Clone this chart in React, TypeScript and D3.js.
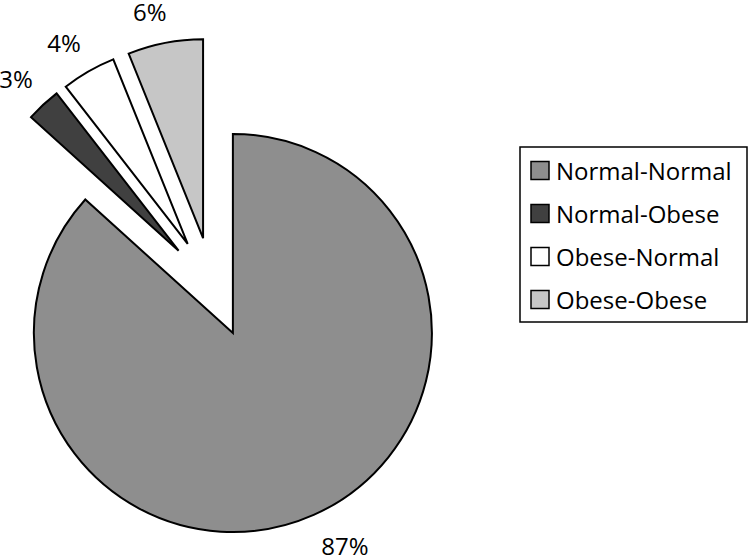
import React from "react";
import * as d3 from "d3";

const categories = ["Normal-Normal", "Normal-Obese", "Obese-Normal", "Obese-Obese"];
const values = [86.7, 2.8, 4.4, 6.1];
const colors = ["#8e8e8e", "#404040", "#ffffff", "#c6c6c6"];

const W = 749;
const H = 558;
const CX = 212.6;
const CY = 287.3;
const R = 199;
const EXPLODE = 50;
const FONT = "'Open Sans', sans-serif";

export default function App() {
  const pie = d3.pie<number>().sort(null).value((d) => d).startAngle(0).endAngle(2 * Math.PI);
  const arcs = pie(values);
  const arc = d3.arc<d3.PieArcDatum<number>>().innerRadius(0).outerRadius(R);

  const legendX = 520;
  const legendY = 147;
  const rowH = 43;

  return (
    <svg width={W} height={H} style={{ position: "absolute", left: 0, top: 0, background: "#fff" }}>
      {arcs.map((a, i) => {
        const mid = (a.startAngle + a.endAngle) / 2;
        const dx = Math.sin(mid);
        const dy = -Math.cos(mid);
        const ox = CX + dx * EXPLODE;
        const oy = CY + dy * EXPLODE;
        return (
          <path
            key={categories[i]}
            d={arc(a) || ""}
            transform={`translate(${ox},${oy})`}
            fill={colors[i]}
            stroke="#000"
            strokeWidth={2}
            strokeLinejoin="miter"
          />
        );
      })}
      {arcs.map((a, i) => {
        const mid = (a.startAngle + a.endAngle) / 2;
        const dx = Math.sin(mid);
        const dy = -Math.cos(mid);
        const px = CX + dx * (EXPLODE + R);
        const py = CY + dy * (EXPLODE + R);
        const label = `${Math.round(values[i])}%`;
        const hw = label.length * 8;
        const halfText = label.length * 8.5;
        let lx = px + dx * 30 + Math.sign(dx) * hw * (label.length > 2 ? 0.8 : 0.6);
        lx = Math.max(lx, halfText - 1);
        const ly = py + dy * 21 + Math.sign(dy) * 11;
        return (
          <text
            key={"l" + i}
            x={lx}
            y={ly}
            textAnchor="middle"
            dominantBaseline="central"
            fontFamily={FONT}
            fontSize={24}
            fill="#000"
          >
            {label}
          </text>
        );
      })}
      <rect x={legendX} y={legendY} width={227} height={175} fill="#fff" stroke="#000" strokeWidth={1.5} />
      {categories.map((c, i) => {
        const cy = legendY + 23.5 + i * rowH;
        return (
          <g key={"g" + c}>
            <rect x={531} y={cy - 9} width={18} height={18} fill={colors[i]} stroke="#000" strokeWidth={1.5} />
            <text x={556} y={cy} dominantBaseline="central" fontFamily={FONT} fontSize={24} fill="#000">
              {c}
            </text>
          </g>
        );
      })}
    </svg>
  );
}
